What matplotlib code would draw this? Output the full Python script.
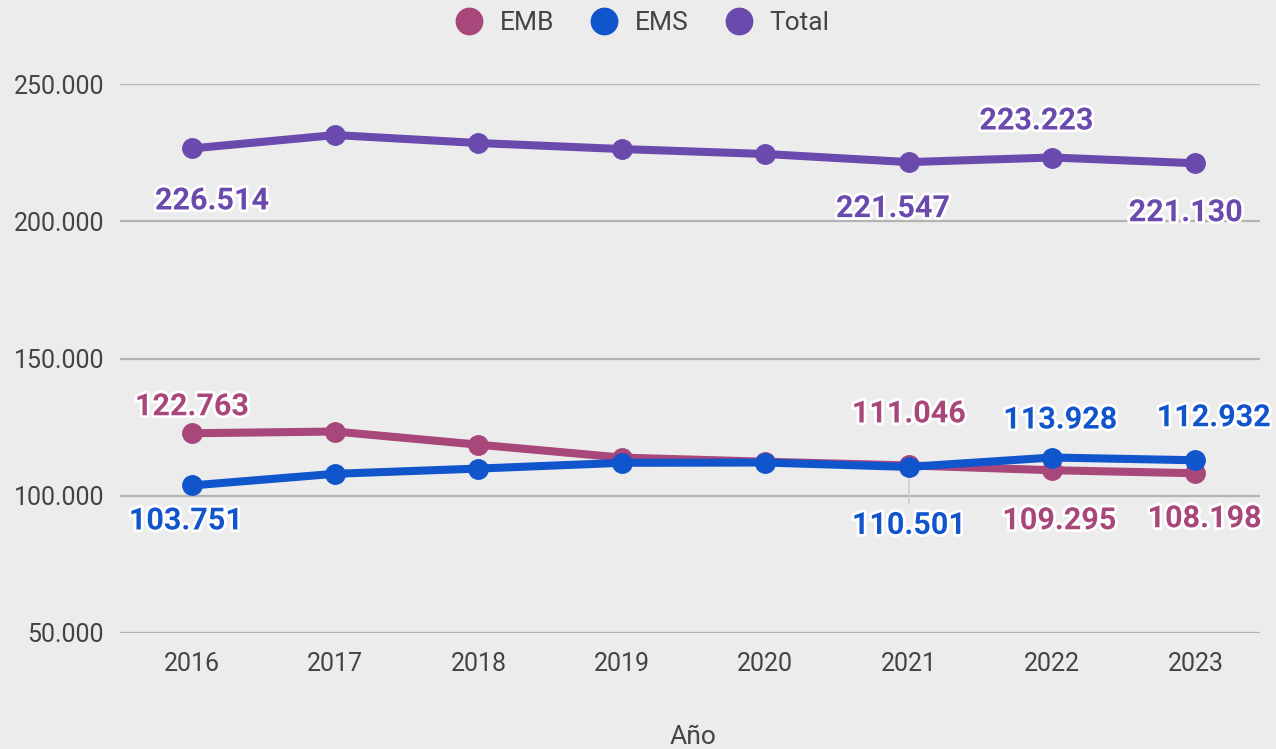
import matplotlib.pyplot as plt
import matplotlib.patheffects as pe
from matplotlib.lines import Line2D

plt.rcParams['font.family'] = ['Roboto', 'DejaVu Sans']

years = [2016, 2017, 2018, 2019, 2020, 2021, 2022, 2023]
emb = [122763, 123400, 118600, 113900, 112400, 111046, 109295, 108198]
ems = [103751, 108000, 109900, 112000, 112100, 110501, 113928, 112932]
total = [226514, 231400, 228500, 226300, 224500, 221547, 223223, 221130]

# labelled points -> label offset in pixels (dx, dy), dy up positive
emb_labels = {2016: (0, 27), 2021: (0, 52), 2022: (7, -50), 2023: (9, -45)}
ems_labels = {2016: (-6, -35), 2021: (0, -58), 2022: (8, 38), 2023: (18, 43)}
total_labels = {2016: (20, -52), 2021: (-16, -46), 2022: (-16, 37), 2023: (-10, -49)}

c_emb = '#a8477a'
c_ems = '#1155cc'
c_total = '#6a4aad'
bg = '#ececec'

fig = plt.figure(figsize=(12.76, 7.49), dpi=100, facecolor=bg)
ax = fig.add_axes([120/1276, 1 - 633/749, 1140/1276, (633-84)/749])
ax.set_facecolor(bg)

ax.set_xlim(2015.5, 2023.45)
ax.set_ylim(50000, 250000)
ax.set_yticks([50000, 100000, 150000, 200000, 250000])
ax.set_yticklabels(['50.000', '100.000', '150.000', '200.000', '250.000'])
ax.set_xticks(years)
ax.set_xticklabels([str(y) for y in years])
ax.tick_params(axis='both', length=0, labelsize=18, colors='#444444')
ax.tick_params(axis='y', pad=11.5)
ax.tick_params(axis='x', pad=14)
for s in ax.spines.values():
    s.set_visible(False)
ax.grid(axis='y', color='#b3b3b3', linewidth=1.6)
ax.set_axisbelow(True)

# faint hover line at 2021
ax.plot([2021, 2021], [97000, 114000], color='#d0d0d0', lw=1.2, zorder=1)

for vals, col in [(total, c_total), (emb, c_emb), (ems, c_ems)]:
    ax.plot(years, vals, color=col, lw=5.8, marker='o', markersize=14,
            solid_capstyle='round', zorder=3)

def put_labels(vals, labs, col):
    for x, v in zip(years, vals):
        if x in labs:
            dx, dy = labs[x]
            t = ax.annotate(f'{v:,}'.replace(',', '.'), (x, v),
                            xytext=(dx * 0.72, dy * 0.72), textcoords='offset points',
                            ha='center', va='center', fontsize=22,
                            fontweight='bold', color=col, zorder=5)
            t.set_path_effects([pe.withStroke(linewidth=4, foreground='white')])

put_labels(total, total_labels, c_total)
put_labels(emb, emb_labels, c_emb)
put_labels(ems, ems_labels, c_ems)

fig.text(693/1276, 1 - 737/749, 'Año', ha='center', va='center',
         fontsize=19, color='#444444')

handles = [Line2D([], [], ls='none', marker='o', markersize=19, color=c)
           for c in (c_emb, c_ems, c_total)]
fig.legend(handles, ['EMB', 'EMS', 'Total'], loc='center',
           bbox_to_anchor=(640/1276, 1 - 23/749), ncol=3, frameon=False,
           fontsize=19, labelcolor='#444444', handletextpad=0.45,
           handlelength=1.4, columnspacing=1.2)

fig.savefig('out.png', dpi=100, facecolor=bg)
